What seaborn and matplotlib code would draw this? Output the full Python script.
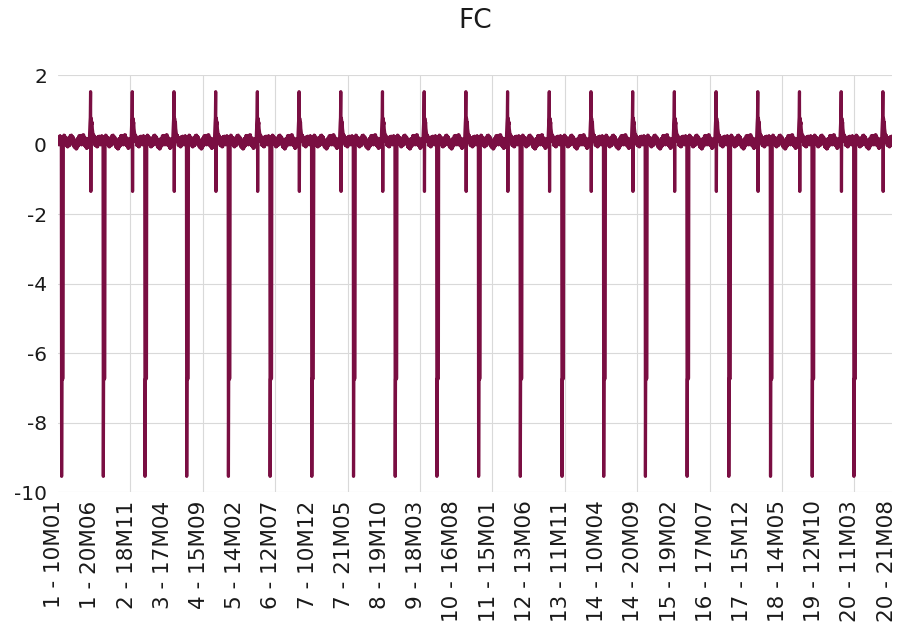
import matplotlib
matplotlib.use("Agg")
import matplotlib.pyplot as plt
import matplotlib.transforms as mtransforms
import numpy as np
import pandas as pd
import seaborn as sns

# ---------------- data ----------------
title = "FC"
days = list(range(1, 21))          # 20 trading days
points_per_day = 144               # hours 10..21, slots M01..M12

# one day's profile (hour 10 .. hour 21, 12 slots per hour)
day_profile = [
    0.21, 0.01, 0.20, -0.01, 0.19, 0.00, 0.25, 0.05, 0.24, 0.03, 0.23, 0.04,         # 10
    -9.55, -6.75, -6.72, -6.76, -6.74, -6.73, 0.16, 0.06, 0.27, 0.05, 0.26, 0.07,   # 11
    0.20, 0.00, 0.21, -0.01, 0.19, 0.01, 0.15, -0.06, 0.14, -0.07, 0.13, -0.05,      # 12
    0.19, -0.02, 0.18, -0.03, 0.20, -0.01, 0.26, 0.05, 0.25, 0.04, 0.27, 0.06,       # 13
    0.23, 0.02, 0.22, 0.01, 0.21, 0.03, 0.14, -0.07, 0.13, -0.08, 0.12, -0.06,       # 14
    0.09, -0.12, 0.08, -0.13, 0.10, -0.11, 0.17, -0.04, 0.16, -0.05, 0.18, -0.03,    # 15
    0.25, 0.04, 0.24, 0.03, 0.26, 0.05, 0.21, 0.00, 0.20, -0.01, 0.22, 0.01,         # 16
    0.27, 0.06, 0.26, 0.05, 0.28, 0.07, 0.18, -0.03, 0.17, -0.04, 0.19, -0.02,       # 17
    0.11, -0.10, 0.10, -0.11, 0.12, -0.09, 0.16, -0.05, 0.15, -0.06, 0.17, -0.04,    # 18
    0.20, 0.45, 0.62, 0.78, 1.52, -1.35, 0.76, 0.70, 0.58, 0.64, 0.46, 0.40,         # 19
    0.32, 0.12, 0.28, 0.08, 0.26, 0.07, 0.19, -0.02, 0.18, -0.03, 0.20, -0.01,       # 20
    0.15, -0.06, 0.14, -0.07, 0.16, -0.05, 0.23, 0.02, 0.22, 0.01, 0.24, 0.03,       # 21
]

# value right after the low plateau on each day (most days return straight to ~0)
recovery_value = [0.16, 0.16, 0.16, 0.16, 0.16, 0.16, -3.3, 0.16, 0.16, 0.16,
                  0.16, 0.16, 0.16, 0.16, 0.16, 0.16, 0.16, 0.16, 0.16, 0.16]

tick_labels = ["1 - 10M01", "1 - 20M06", "2 - 18M11", "3 - 17M04", "4 - 15M09",
               "5 - 14M02", "6 - 12M07", "7 - 10M12", "7 - 21M05", "8 - 19M10",
               "9 - 18M03", "10 - 16M08", "11 - 15M01", "12 - 13M06", "13 - 11M11",
               "14 - 10M04", "14 - 20M09", "15 - 19M02", "16 - 17M07", "17 - 15M12",
               "18 - 14M05", "19 - 12M10", "20 - 11M03", "20 - 21M08"]
label_step = 125
grid_step = 250
y_ticks = [2, 0, -2, -4, -6, -8, -10]

# build the series
values = []
for d, rec in zip(days, recovery_value):
    prof = list(day_profile)
    prof[18] = rec
    values.extend(prof)
df = pd.DataFrame({"idx": np.arange(len(values)), "FC": values})

# ---------------- style ----------------
sns.set_theme(style="white")
plt.rcParams["font.family"] = ["DejaVu Sans"]
plt.rcParams["axes.unicode_minus"] = False

W, H = 899, 636
fig = plt.figure(figsize=(W / 100, H / 100), dpi=100)
L, R, T, B = 58, 892, 75, 492
ax = fig.add_axes([L / W, 1 - B / H, (R - L) / W, (B - T) / H])

line_color = "#7A0E42"
sns.lineplot(data=df, x="idx", y="FC", ax=ax, color=line_color,
             linewidth=2.3, estimator=None, sort=False, zorder=3)

ax.set_xlim(-0.5, len(values) - 0.5)
ax.set_ylim(-10, 2)
ax.set_yticks(y_ticks)
ax.set_yticklabels([str(v) for v in y_ticks])
ax.set_xticks(np.arange(0, len(values), label_step))
ax.set_xticklabels(tick_labels, rotation=90)
ax.set_xticks(np.arange(grid_step - 0.5, len(values) - 1, grid_step), minor=True)

ax.grid(False)
ax.grid(True, axis="y", which="major", color="#d9d9d9", linewidth=0.8, zorder=0)
ax.grid(True, axis="x", which="minor", color="#d9d9d9", linewidth=0.8, zorder=0)
for s in ax.spines.values():
    s.set_visible(False)

ax.tick_params(axis="y", which="both", length=0, pad=8, labelsize=14.5, labelcolor="#1a1a1a")
ax.tick_params(axis="x", which="both", length=0, pad=6, labelsize=15.5, labelcolor="#1a1a1a")
ax.set_xlabel("")
ax.set_ylabel("")

offset = mtransforms.ScaledTranslation(-4 / 100, 0, fig.dpi_scale_trans)
for lab in ax.get_xticklabels():
    lab.set_transform(lab.get_transform() + offset)

fig.text(((L + R) / 2) / W, 1 - 21 / H, title, ha="center", va="center",
         fontsize=19, color="#1a1a1a",
         family=["Liberation Sans Narrow", "DejaVu Sans"])

fig.savefig("out.png", dpi=100)
